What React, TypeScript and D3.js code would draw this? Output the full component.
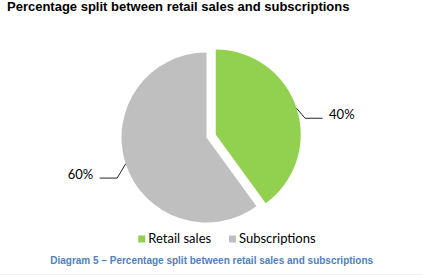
import React from "react";
import * as d3 from "d3";

const categories = ["Retail sales", "Subscriptions"];
const values = [40, 60];
const colors = ["#92d050", "#bfbfbf"];
const explode = [9.7, 0];
const titleText = "Percentage split between retail sales and subscriptions";
const captionText = "Diagram 5 – Percentage split between retail sales and subscriptions";

export default function App() {
  const W = 423, H = 275;
  const cx = 206.5, cy = 137.5, r = 85;
  const total = d3.sum(values);
  const pie = d3.pie<number>().sort(null).startAngle(0).endAngle(2 * Math.PI);
  const arcs = pie(values);
  const arc = d3.arc<d3.PieArcDatum<number>>().innerRadius(0).outerRadius(r);
  const fmt = (v: number) => d3.format(".0%")(v / total);
  const labelFont = "Lato, 'Open Sans', sans-serif";

  return (
    <svg width={W} height={H} style={{ position: "absolute", left: 0, top: 0, background: "#fff" }}>
      <text x={7} y={10.5} fontFamily="'Liberation Sans', Arial, sans-serif" fontWeight="bold" fontSize={13} fill="#000">
        {titleText}
      </text>
      {arcs.map((a, i) => {
        const mid = (a.startAngle + a.endAngle) / 2;
        const ox = Math.sin(mid) * explode[i];
        const oy = -Math.cos(mid) * explode[i];
        const px = cx + ox, py = cy + oy;
        const sx = px + Math.sin(mid) * r;
        const sy = py - Math.cos(mid) * r;
        const right = Math.sin(mid) >= 0;
        const dir = right ? 1 : -1;
        const ex = sx + dir * 8.5;
        const ey = sy + (right ? 10 : 14.3);
        const hx = ex + dir * 17.5;
        return (
          <g key={i}>
            <path d={arc(a) || ""} transform={`translate(${px},${py})`} fill={colors[i]} />
            <polyline points={`${sx},${sy} ${ex},${ey} ${hx},${ey}`} fill="none" stroke="#262626" strokeWidth={1} />
            <text x={hx + dir * 6.5} y={ey + 1.2} textAnchor={right ? "start" : "end"} fontFamily={labelFont} fontSize={13} fill="#000">
              {fmt(values[i])}
            </text>
          </g>
        );
      })}
      <g>
        <rect x={138.3} y={235.5} width={7} height={7} fill={colors[0]} />
        <text x={148.3} y={243} fontFamily={labelFont} fontSize={13} fill="#000">{categories[0]}</text>
        <rect x={229} y={235.5} width={7} height={7} fill={colors[1]} />
        <text x={239} y={243} fontFamily={labelFont} fontSize={13} fill="#000">{categories[1]}</text>
      </g>
      <text x={211.7} y={264.2} textAnchor="middle" fontFamily="'Liberation Sans', Arial, sans-serif" fontWeight="bold" fontSize={10} fill="#4f81bd">
        {captionText}
      </text>
      <line x1={0} x2={W} y1={274.5} y2={274.5} stroke="#f0f0f0" strokeWidth={1} />
    </svg>
  );
}
